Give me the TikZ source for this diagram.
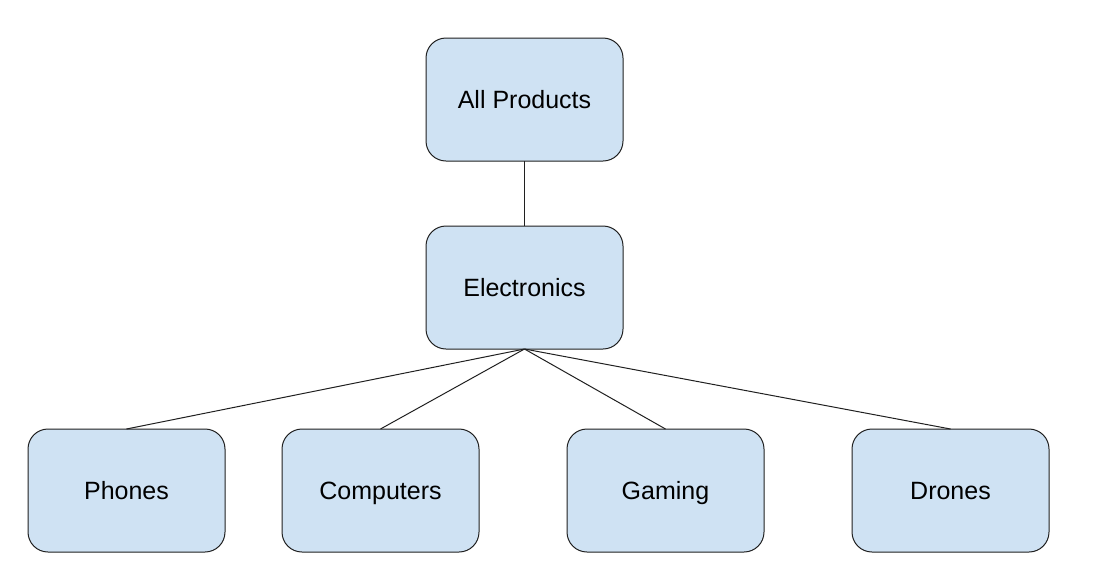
\documentclass[tikz,border=0pt]{standalone}
\usepackage{fontspec}
\setmainfont{Liberation Sans}
\usepackage{xcolor}
\usetikzlibrary{positioning}
\definecolor{catblue}{HTML}{CFE2F3}
\definecolor{catline}{HTML}{202020}

\begin{document}
\begin{tikzpicture}[
    x=1pt, y=1pt,
    node distance=65pt and 57pt,
    every node/.style={font=\fontsize{25}{30}\selectfont},
    cat/.style={draw=catline, rounded corners=20pt, minimum width=197pt, minimum height=123pt,
                align=center, fill=catblue, line width=1pt, inner sep=0pt, outer sep=0pt,
                text height=18pt, text depth=0pt},
    link/.style={draw=catline, line width=1pt},
]
    \useasboundingbox (0,0) rectangle (1112,-566);

    \node[cat] (all) at (524.5,-99.5) {All Products};
    \node[cat, below=of all] (elec) {Electronics};

    \node[cat] (phones) at (126.5,-490.5) {Phones};
    \node[cat, right=57pt of phones] (comp) {Computers};
    \node[cat, right=88pt of comp] (gaming) {Gaming};
    \node[cat, right=88pt of gaming] (drones) {Drones};

    \draw[link] (all) -- (elec);
    \foreach \child in {phones, comp, gaming, drones}
        \draw[link] (elec.south) -- (\child.north);
\end{tikzpicture}
\end{document}
